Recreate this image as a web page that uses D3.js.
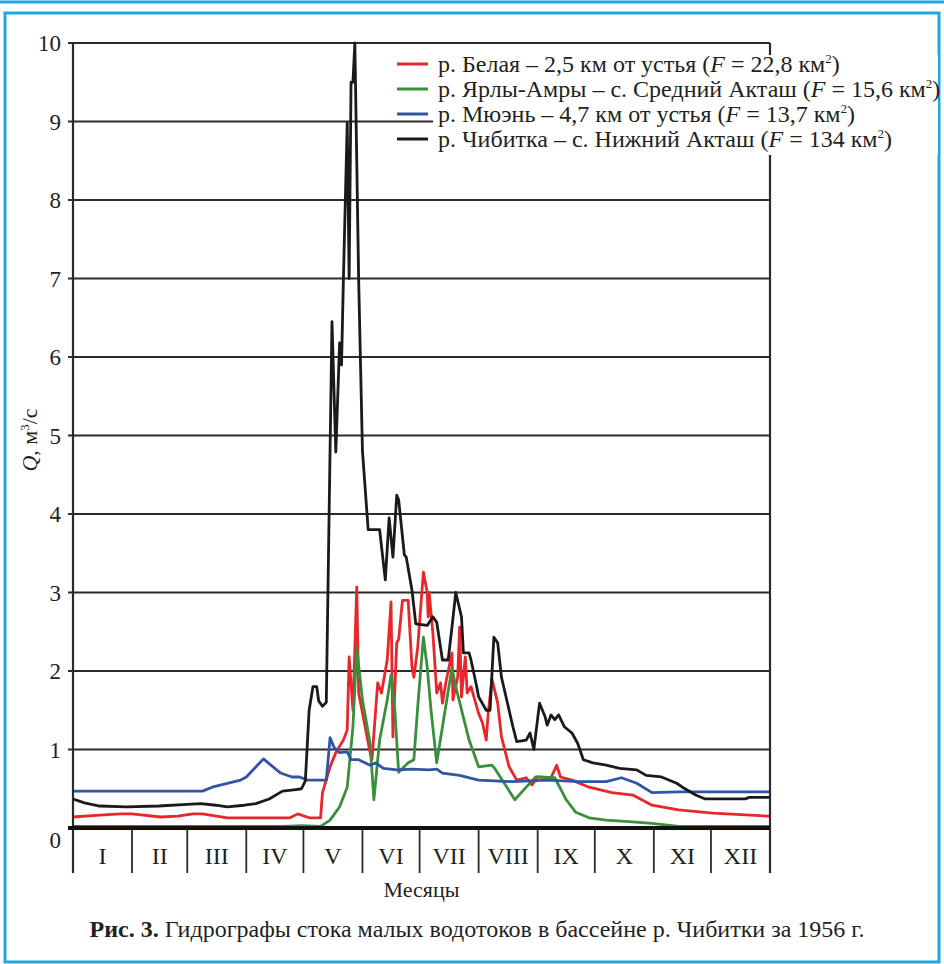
<!DOCTYPE html>
<html>
<head>
<meta charset="utf-8">
<title>Гидрографы</title>
<style>
  body { margin: 0; background: #fff; }
  svg text { font-family: "Liberation Serif", "Times New Roman", Times, serif; fill: #231f20; }
</style>
</head>
<body>
<svg width="944" height="964" font-family="Liberation Serif, serif"></svg>
<script src="https://cdnjs.cloudflare.com/ajax/libs/d3/7.8.5/d3.min.js"></script>
<script>
// month names and month boundaries (day of year, 1956 is a leap year)
var months = ["I", "II", "III", "IV", "V", "VI", "VII", "VIII", "IX", "X", "XI", "XII"];
var monthStarts = [0, 31, 60, 91, 121, 152, 182, 213, 244, 274, 305, 335, 366];
var yTicks = [0, 1, 2, 3, 4, 5, 6, 7, 8, 9, 10];

// each series: day of year and discharge Q, m3/s
var belayaDays = [0, 12, 25, 31, 46, 55, 63, 68, 81, 114, 118, 124, 130, 131, 135, 138, 142, 144, 145, 147, 149, 150, 156, 157, 160, 162, 165, 167, 168, 170, 171, 173, 176, 178, 179, 181, 183, 184, 186, 186.5, 187, 189, 191, 193, 194, 196, 199, 199.5, 202, 203, 204, 206, 207, 209, 211, 213, 215, 217, 218, 220, 223, 225, 229, 233, 238, 241, 244, 251, 254, 256, 262, 271, 283, 294, 304, 318, 336, 366];
var belayaQ = [0.14, 0.16, 0.18, 0.18, 0.14, 0.15, 0.18, 0.18, 0.13, 0.13, 0.18, 0.13, 0.13, 0.45, 0.78, 0.96, 1.12, 1.25, 2.18, 1.5, 3.07, 1.72, 0.96, 0.87, 1.85, 1.72, 2.14, 2.88, 1.16, 2.36, 2.4, 2.9, 2.9, 2.05, 1.92, 2.3, 2.94, 3.26, 3.0, 2.69, 3.0, 2.48, 1.72, 1.85, 1.59, 1.88, 2.23, 1.63, 1.92, 2.56, 1.67, 2.18, 1.72, 1.8, 1.63, 1.46, 1.34, 1.12, 1.46, 1.9, 1.59, 1.16, 0.78, 0.61, 0.64, 0.55, 0.65, 0.64, 0.8, 0.65, 0.61, 0.52, 0.45, 0.42, 0.29, 0.23, 0.19, 0.15];

var yarlyDays = [0, 60, 110, 120, 130, 135, 140, 144, 147, 149, 152, 156, 158, 161, 165, 167, 169, 171, 176, 179, 181, 184, 186, 188, 191, 194, 199, 201, 205, 208, 213, 220, 222, 232, 238, 243, 253, 259, 264, 271, 280, 292, 304, 318, 366];
var yarlyQ = [0.02, 0.02, 0.02, 0.03, 0.02, 0.1, 0.27, 0.52, 1.29, 2.29, 1.63, 1.08, 0.36, 1.12, 1.63, 1.95, 1.5, 0.71, 0.83, 0.87, 1.54, 2.43, 2.05, 1.5, 0.83, 1.29, 2.04, 1.8, 1.41, 1.12, 0.78, 0.8, 0.74, 0.36, 0.52, 0.65, 0.64, 0.36, 0.2, 0.13, 0.1, 0.08, 0.06, 0.02, 0.02];

var myuenDays = [0, 68, 73, 88, 91, 100, 109, 115, 119, 123, 133, 135, 137, 140, 144, 146, 150, 156, 159, 163, 170, 178, 187, 191, 194, 203, 213, 231, 249, 266, 280, 288, 296, 304, 318, 366];
var myuenQ = [0.47, 0.47, 0.52, 0.61, 0.65, 0.88, 0.7, 0.65, 0.65, 0.61, 0.61, 1.15, 1.03, 0.96, 0.97, 0.87, 0.87, 0.8, 0.83, 0.76, 0.74, 0.75, 0.74, 0.75, 0.7, 0.67, 0.61, 0.59, 0.61, 0.59, 0.59, 0.64, 0.57, 0.45, 0.46, 0.46];

var chibitkaDays = [0, 6, 14, 28, 45, 60, 67, 75, 81, 90, 96, 103, 110, 117, 120, 122, 123, 124, 126, 128, 129, 131, 133, 136, 138, 140, 141, 142, 144, 145, 146, 147, 148, 150, 152, 155, 161, 164, 166, 168, 170, 171, 174, 175, 178, 180, 186, 189, 191, 194, 197, 199, 201, 204, 205, 208, 209, 212, 213, 217, 219, 221, 223, 225, 231, 233, 238, 240, 242, 245, 248, 249, 251, 253, 255, 258, 262, 265, 268, 273, 280, 287, 296, 301, 309, 317, 320, 327, 332, 353, 355, 366];
var chibitkaQ = [0.37, 0.32, 0.28, 0.27, 0.28, 0.3, 0.31, 0.29, 0.27, 0.29, 0.31, 0.37, 0.47, 0.49, 0.5, 0.6, 1.05, 1.5, 1.8, 1.8, 1.62, 1.55, 1.6, 6.45, 4.79, 6.18, 5.9, 7.0, 8.98, 7.0, 9.5, 9.5, 10.0, 6.98, 4.8, 3.8, 3.8, 3.16, 3.95, 3.45, 4.24, 4.18, 3.48, 3.45, 3.03, 2.6, 2.58, 2.69, 2.62, 2.14, 2.14, 2.56, 3.0, 2.69, 2.23, 2.23, 2.14, 1.8, 1.67, 1.5, 1.5, 2.43, 2.36, 1.92, 1.29, 1.1, 1.12, 1.21, 1.0, 1.59, 1.41, 1.31, 1.44, 1.38, 1.44, 1.29, 1.21, 1.08, 0.87, 0.83, 0.8, 0.76, 0.74, 0.67, 0.65, 0.57, 0.52, 0.42, 0.37, 0.37, 0.39, 0.39];

var seriesNames = ["р. Белая – 2,5 км от устья (", "р. Ярлы-Амры – с. Средний Акташ (", "р. Мюэнь – 4,7 км от устья (", "р. Чибитка – с. Нижний Акташ ("];
var seriesAreas = ["22,8", "15,6", "13,7", "134"];
var colors = ["#e8262b", "#3a8f3c", "#2f55a4", "#1a1a1a"];

var series = [
  { days: belayaDays, q: belayaQ },
  { days: yarlyDays, q: yarlyQ },
  { days: myuenDays, q: myuenQ },
  { days: chibitkaDays, q: chibitkaQ }
];

var svg = d3.select("svg"),
    plotL = 73, plotR = 770, plotT = 43, plotB = 828, stripH = 45;

var x = d3.scaleLinear().domain([0, 366]).range([plotL, plotR]);
var y = d3.scaleLinear().domain([0, 10]).range([plotB, plotT]);

// frame
svg.append("line").attr("x1", 0).attr("x2", 944).attr("y1", 2).attr("y2", 2)
  .attr("stroke", "#1fa8e0").attr("stroke-width", 3);
svg.append("rect").attr("x", 5).attr("y", 13).attr("width", 934).attr("height", 949)
  .attr("fill", "none").attr("stroke", "#1fa8e0").attr("stroke-width", 3);

// grid
svg.append("g").selectAll("line")
  .data(yTicks.slice(1))
  .enter().append("line")
  .attr("x1", plotL - 5).attr("x2", plotR)
  .attr("y1", function(d) { return y(d); }).attr("y2", function(d) { return y(d); })
  .attr("stroke", "#2b2b2b").attr("stroke-width", 1.8);

// tick labels
svg.append("g").selectAll("text")
  .data(yTicks)
  .enter().append("text")
  .attr("x", 61)
  .attr("y", function(d) { return d === 0 ? y(d) + 12 : y(d); })
  .attr("dy", "0.35em")
  .attr("text-anchor", "end")
  .style("font-size", "23px")
  .text(function(d) { return d; });

// month strip
svg.append("g").selectAll("line")
  .data(monthStarts)
  .enter().append("line")
  .attr("x1", function(d) { return x(d); }).attr("x2", function(d) { return x(d); })
  .attr("y1", plotB).attr("y2", plotB + stripH)
  .attr("stroke", "#2b2b2b").attr("stroke-width", 1.8);

svg.append("g").selectAll("text")
  .data(months)
  .enter().append("text")
  .attr("x", function(d, i) { return (x(monthStarts[i]) + x(monthStarts[i + 1])) / 2; })
  .attr("y", plotB + 36)
  .attr("text-anchor", "middle")
  .style("font-size", "24px")
  .text(function(d) { return d; });

// series lines
var line = d3.line()
  .x(function(d) { return x(d[0]); })
  .y(function(d) { return y(d[1]); });

svg.append("g").selectAll("path")
  .data(series)
  .enter().append("path")
  .attr("d", function(s) { return line(d3.zip(s.days, s.q)); })
  .attr("fill", "none")
  .attr("stroke", function(d, i) { return colors[i]; })
  .attr("stroke-width", 2.8)
  .attr("stroke-linejoin", "round");

// axes
svg.append("line").attr("x1", plotL).attr("x2", plotL).attr("y1", plotT).attr("y2", plotB + stripH)
  .attr("stroke", "#2b2b2b").attr("stroke-width", 2.2);
svg.append("line").attr("x1", plotR).attr("x2", plotR).attr("y1", plotT).attr("y2", plotB + stripH)
  .attr("stroke", "#2b2b2b").attr("stroke-width", 2.2);
svg.append("line").attr("x1", plotL - 5).attr("x2", plotR).attr("y1", y(0)).attr("y2", y(0))
  .attr("stroke", "#111").attr("stroke-width", 4);

// legend (white box over grid)
svg.append("rect").attr("x", 433).attr("y", 55).attr("width", 505).attr("height", 100).attr("fill", "#fff");

var legend = svg.append("g").selectAll("g")
  .data(seriesNames)
  .enter().append("g")
  .attr("transform", function(d, i) { return "translate(0," + (64 + i * 25) + ")"; });

legend.append("line")
  .attr("x1", 397).attr("x2", 428)
  .attr("stroke", function(d, i) { return colors[i]; })
  .attr("stroke-width", 3);

var lt = legend.append("text")
  .attr("x", 438)
  .attr("y", 8)
  .style("font-size", "24px");
lt.append("tspan").text(function(d) { return d; });
lt.append("tspan").style("font-style", "italic").text("F");
lt.append("tspan").text(function(d, i) { return " = " + seriesAreas[i] + " км"; });
lt.append("tspan").attr("dy", -9).style("font-size", "13px").text("2");
lt.append("tspan").attr("dy", 9).text(")");

// axis titles
var yl = svg.append("text")
  .attr("transform", "translate(37,440) rotate(-90)")
  .attr("text-anchor", "middle")
  .style("font-size", "22px");
yl.append("tspan").style("font-style", "italic").text("Q");
yl.append("tspan").text(", м");
yl.append("tspan").attr("dy", -8).style("font-size", "13px").text("3");
yl.append("tspan").attr("dy", 8).text("/с");

svg.append("text")
  .attr("x", (plotL + plotR) / 2).attr("y", 897)
  .attr("text-anchor", "middle")
  .style("font-size", "22px")
  .text("Месяцы");

var cap = svg.append("text")
  .attr("x", 477).attr("y", 937)
  .attr("text-anchor", "middle")
  .style("font-size", "24px");
cap.append("tspan").style("font-weight", "bold").text("Рис. 3.");
cap.append("tspan").text(" Гидрографы стока малых водотоков в бассейне р. Чибитки за 1956 г.");
</script>
</body>
</html>
